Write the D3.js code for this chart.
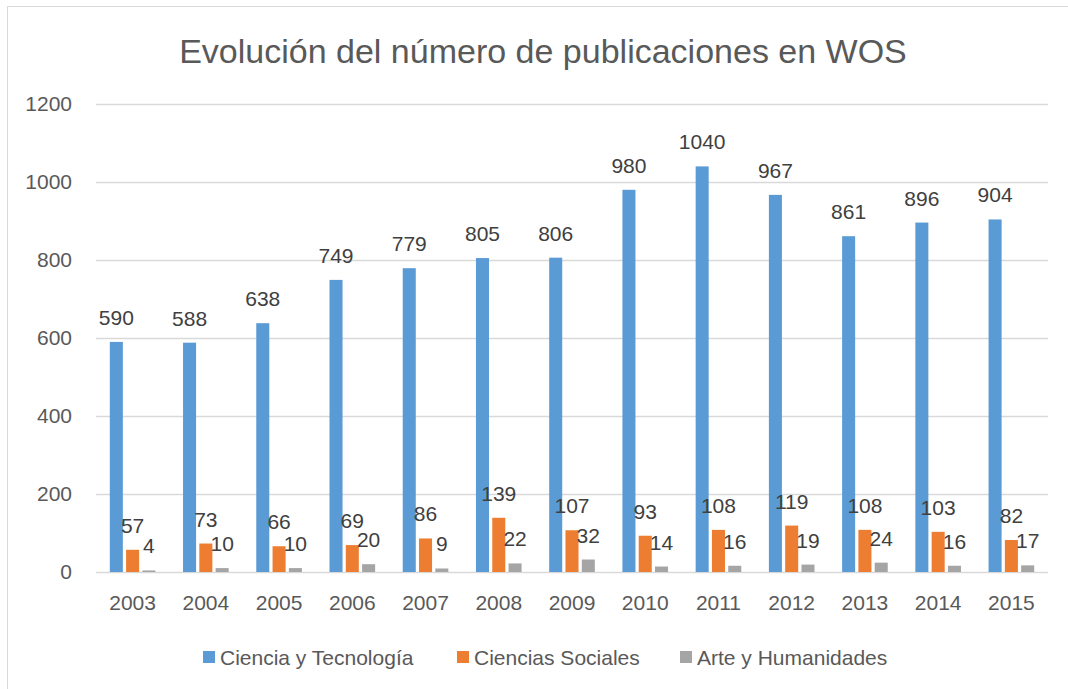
<!DOCTYPE html>
<html>
<head>
<meta charset="utf-8">
<script src="https://cdn.jsdelivr.net/npm/d3@7"></script>
<style>
  body { margin: 0; background: #fff; }
  text { font-family: "Liberation Sans", Arial, sans-serif; }
</style>
</head>
<body>
<svg id="chart" width="1068" height="689"></svg>
<script>
var years = ['2003','2004','2005','2006','2007','2008','2009','2010','2011','2012','2013','2014','2015'];
var seriesNames = ['Ciencia y Tecnología', 'Ciencias Sociales', 'Arte y Humanidades'];
var cienciaTec = [590, 588, 638, 749, 779, 805, 806, 980, 1040, 967, 861, 896, 904];
var cienciasSoc = [57, 73, 66, 69, 86, 139, 107, 93, 108, 119, 108, 103, 82];
var arteHum = [4, 10, 10, 20, 9, 22, 32, 14, 16, 19, 24, 16, 17];
var yTicks = [0, 200, 400, 600, 800, 1000, 1200];

var colors = ['#5B9BD5', '#ED7D31', '#A5A5A5'];
var allSeries = [cienciaTec, cienciasSoc, arteHum];

var svg = d3.select('#chart');

// chart border (Excel style)
svg.append('rect')
    .attr('x', 7.5).attr('y', 6.5)
    .attr('width', 1070).attr('height', 700)
    .attr('fill', 'none')
    .attr('stroke', '#d9d9d9');

var x0 = d3.scaleBand()
    .domain(years)
    .range([96, 1048])
    .paddingInner(0.377)
    .paddingOuter(0.1885);

var x1 = d3.scaleBand()
    .domain(d3.range(3))
    .range([0, x0.bandwidth()])
    .paddingInner(0.2);

var y = d3.scaleLinear()
    .domain([0, 1200])
    .range([572, 104]);

//## gridlines + y labels
var yAxis = d3.axisLeft(y)
    .tickValues(yTicks)
    .tickFormat(d3.format('d'))
    .tickSize(-(1048 - 96))
    .tickPadding(24);

var gy = svg.append('g')
    .attr('transform', 'translate(96,0)')
    .call(yAxis);
gy.select('.domain').remove();
gy.selectAll('.tick line').attr('stroke', '#d9d9d9').attr('stroke-width', 1.3);
gy.selectAll('.tick text')
    .attr('fill', '#595959')
    .style('font-size', '21px');

//## x labels
var xAxis = d3.axisBottom(x0).tickSize(0).tickPadding(23);
var gx = svg.append('g')
    .attr('transform', 'translate(0,572)')
    .call(xAxis);
gx.select('.domain').remove();
gx.selectAll('.tick text')
    .attr('fill', '#595959')
    .style('font-size', '21px');

//## bars
var rows = years.map(function(yr, i) {
    return { year: yr, vals: allSeries.map(function(s) { return s[i]; }) };
});

var groups = svg.selectAll('.grp')
    .data(rows)
    .enter().append('g')
    .attr('class', 'grp')
    .attr('transform', function(d) { return 'translate(' + x0(d.year) + ',0)'; });

groups.selectAll('rect')
    .data(function(d) { return d.vals; })
    .enter().append('rect')
    .attr('x', function(d, i) { return x1(i); })
    .attr('y', function(d) { return y(d); })
    .attr('width', x1.bandwidth())
    .attr('height', function(d) { return y(0) - y(d); })
    .attr('fill', function(d, i) { return colors[i]; });

groups.selectAll('text.lbl')
    .data(function(d) { return d.vals; })
    .enter().append('text')
    .attr('class', 'lbl')
    .attr('x', function(d, i) { return x1(i) + x1.bandwidth() / 2; })
    .attr('y', function(d) { return y(d) - 17; })
    .attr('text-anchor', 'middle')
    .attr('fill', '#404040')
    .style('font-size', '21px')
    .text(function(d) { return d; });

//## title
svg.append('text')
    .attr('x', 543)
    .attr('y', 63)
    .attr('text-anchor', 'middle')
    .attr('fill', '#595959')
    .style('font-size', '34px')
    .text('Evolución del número de publicaciones en WOS');

//## legend
var legendX = [203, 457, 680];
var leg = svg.selectAll('.legend')
    .data(seriesNames)
    .enter().append('g')
    .attr('class', 'legend')
    .attr('transform', function(d, i) { return 'translate(' + legendX[i] + ',651)'; });

leg.append('rect')
    .attr('width', 12)
    .attr('height', 12)
    .attr('fill', function(d, i) { return colors[i]; });

leg.append('text')
    .attr('x', 17)
    .attr('y', 14)
    .attr('fill', '#595959')
    .style('font-size', '21px')
    .text(function(d) { return d; });
</script>
</body>
</html>
